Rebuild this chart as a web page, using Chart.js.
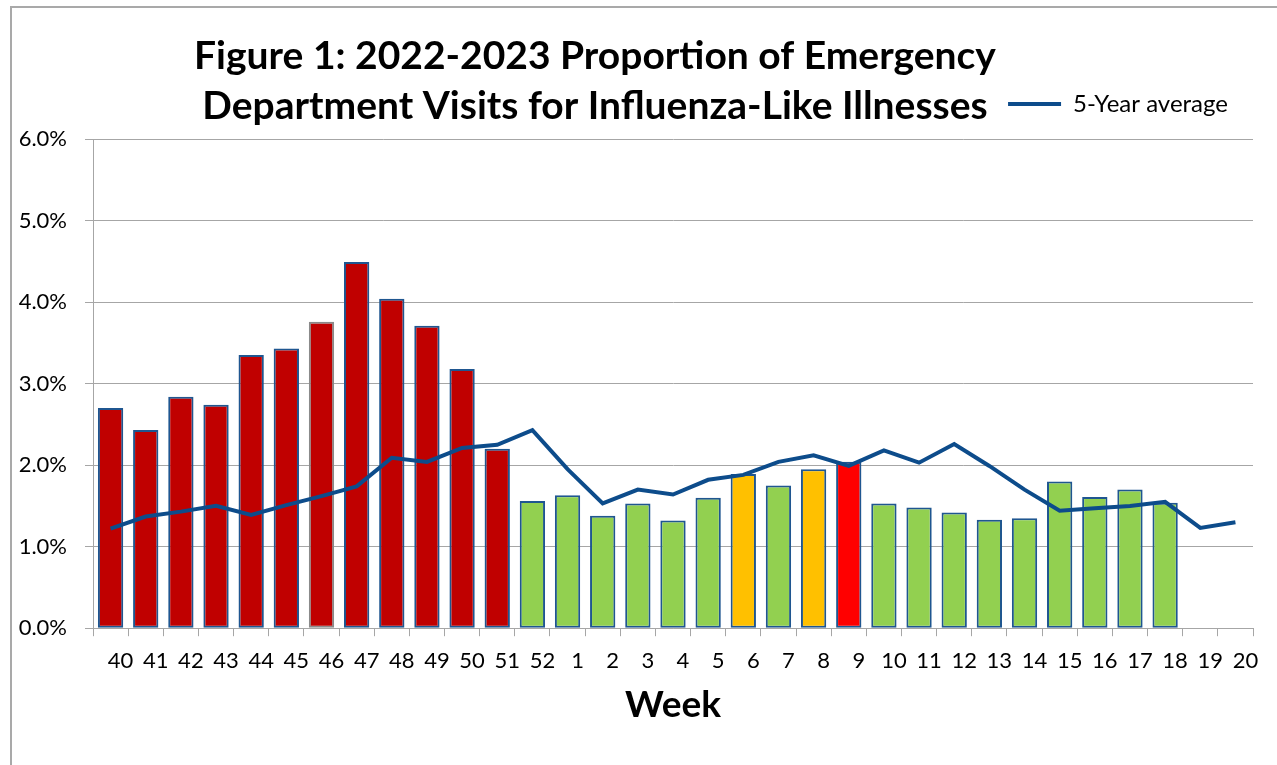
<!DOCTYPE html>
<html>
<head>
<meta charset="utf-8">
<script src="https://cdn.jsdelivr.net/npm/chart.js@4.4.1/dist/chart.umd.min.js"></script>
<style>
  body { margin: 0; background: #fff; overflow: hidden; }
  .frame { position: absolute; left: 10px; top: 6px; width: 1300px; height: 800px;
           border-left: 2px solid #a9a9a9; border-top: 2px solid #a9a9a9; }
  #fluChart { position: absolute; left: 0; top: 0; }
</style>
</head>
<body>
<div class="frame"></div>
<canvas id="fluChart" width="1277" height="765"></canvas>
<script>
// Неделя эпидсезона
const weeks = ['40','41','42','43','44','45','46','47','48','49','50','51','52',
  '1','2','3','4','5','6','7','8','9','10','11','12','13','14','15','16','17','18','19','20'];

// Доля визитов с ГПЗ, %
const iliShare = [2.70, 2.43, 2.84, 2.74, 3.35, 3.43, 3.76, 4.49, 4.04, 3.71, 3.18, 2.20, 1.56,
  1.63, 1.38, 1.53, 1.32, 1.60, 1.89, 1.75, 1.95, 2.04, 1.53, 1.48, 1.42, 1.33, 1.35, 1.80,
  1.61, 1.70, 1.54, null, null];

// Среднее за 5 лет, %
const fiveYearAvg = [1.22, 1.37, 1.43, 1.50, 1.39, 1.51, 1.62, 1.74, 2.09, 2.04, 2.21, 2.25, 2.43,
  1.95, 1.53, 1.70, 1.64, 1.82, 1.88, 2.04, 2.12, 1.99, 2.18, 2.03, 2.26, 1.99, 1.70, 1.44,
  1.47, 1.50, 1.55, 1.23, 1.30];

// Уровень активности по неделям
const activity = ['high','high','high','high','high','high','high','high','high','high','high','high','low',
  'low','low','low','low','low','moderate','low','moderate','peak','low','low','low','low','low','low',
  'low','low','low','low','low'];

const titleLines = ['Figure 1: 2022-2023 Proportion of Emergency',
  'Department Visits for Influenza-Like Illnesses'];

const fillByLevel = { high: '#C00000', low: '#92D050', moderate: '#FFC000', peak: '#FF0000' };
const gridGray = '#A6A6A6';
const font = 'Lato';

// Заголовок рисуем сами, чтобы он стоял левее легенды
const figureTitle = {
  id: 'figureTitle',
  afterDraw(chart) {
    const c = chart.ctx;
    c.save();
    c.font = 'bold 39px ' + font;
    c.fillStyle = '#000';
    c.textAlign = 'center';
    c.textBaseline = 'alphabetic';
    c.fillText(titleLines[0], 595, 69);
    c.fillText(titleLines[1], 595, 119);
    c.restore();
  }
};

new Chart(document.getElementById('fluChart'), {
  type: 'bar',
  data: {
    labels: weeks,
    datasets: [{
      type: 'line',
      label: '5-Year average',
      data: fiveYearAvg,
      borderColor: '#0D4C8B',
      backgroundColor: '#0D4C8B',
      borderWidth: 4,
      pointRadius: 0,
      tension: 0,
      order: 0
    }, {
      label: 'ILI',
      data: iliShare,
      backgroundColor: activity.map(a => fillByLevel[a]),
      borderColor: weeks.map(w => w === '46' ? '#8A8A8A' : '#1F5690'),
      borderWidth: 2,
      borderSkipped: false,
      barPercentage: 0.72,
      categoryPercentage: 1,
      order: 1
    }]
  },
  options: {
    responsive: false,
    animation: false,
    layout: { padding: { top: 67, left: 12, right: 24, bottom: 10 } },
    plugins: {
      legend: {
        position: 'top',
        align: 'end',
        labels: {
          filter: item => item.datasetIndex === 0,
          usePointStyle: true,
          pointStyle: 'line',
          pointStyleWidth: 53,
          padding: 25,
          color: '#000',
          font: { family: font, size: 24 }
        }
      },
      // пустой блок — отступ между легендой и графиком
      title: { display: true, text: '', weight: 500, padding: 0, font: { size: 13, lineHeight: 1 } },
      tooltip: { enabled: false }
    },
    scales: {
      x: {
        offset: true,
        grid: { display: true, drawOnChartArea: false, drawTicks: true, tickLength: 8, color: gridGray, offset: true },
        border: { color: gridGray, width: 1 },
        ticks: {
          autoSkip: false, maxRotation: 0, labelOffset: 10, padding: 12,
          color: '#000', font: { family: font, size: 22 }
        },
        title: {
          display: true, text: 'Week', color: '#000',
          font: { family: font, size: 37, weight: 'bold', lineHeight: 1.2 },
          padding: { top: -4, bottom: 28 }
        }
      },
      y: {
        min: 0, max: 6,
        afterFit: s => { s.width = 81; },
        grid: { color: gridGray, tickLength: 8 },
        border: { color: gridGray, width: 1 },
        ticks: {
          stepSize: 1, padding: 18, color: '#000',
          font: { family: font, size: 22 },
          callback: v => v.toFixed(1) + '%'
        }
      }
    }
  },
  plugins: [figureTitle]
});
</script>
</body>
</html>
